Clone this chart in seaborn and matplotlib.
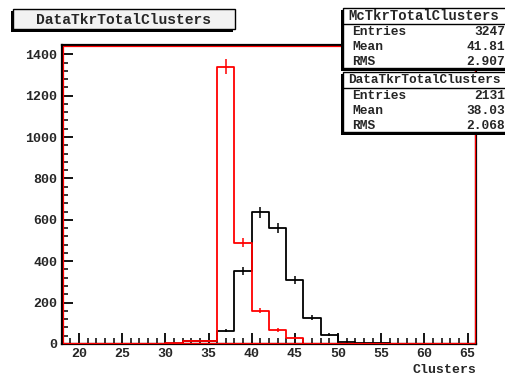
import numpy as np
import pandas as pd
import matplotlib
matplotlib.use("Agg")
import matplotlib.pyplot as plt
from matplotlib.patches import Rectangle
from matplotlib.ticker import MultipleLocator
import seaborn as sns

# Histogram binning: 24 bins of width 2 between 18 and 66
bin_lo, bin_hi, bin_w = 18, 66, 2
bin_centers = np.arange(bin_lo + bin_w / 2, bin_hi, bin_w)

# Monte Carlo (normalised to data entries) and data counts per bin
mc_counts = [0, 0, 0, 0, 0, 0, 0, 15, 15, 63, 352, 636, 559, 309, 127, 45, 10, 4, 2, 0, 0, 0, 0, 0]
data_counts = [0, 0, 0, 0, 0, 0, 6, 14, 14, 1341, 489, 160, 67, 27, 0, 0, 0, 0, 0, 0, 0, 0, 0, 0]

# Statistics boxes
mc_name = "McTkrTotalClusters"
mc_stats = [("Entries", "3247"), ("Mean", "41.81"), ("RMS", "2.907")]
data_name = "DataTkrTotalClusters"
data_stats = [("Entries", "2131"), ("Mean", "38.03"), ("RMS", "2.068")]

title = "DataTkrTotalClusters"
xlabel = "Clusters"

sns.set_style("white")
plt.rcParams["font.family"] = ["Liberation Mono", "DejaVu Sans Mono"]
plt.rcParams["font.weight"] = "bold"

fig = plt.figure(figsize=(5.06, 3.75), dpi=100)
ax = fig.add_axes([0.122, 0.083, 0.819, 0.797])

df = pd.DataFrame({
    "center": np.concatenate([bin_centers, bin_centers]),
    "count": np.concatenate([mc_counts, data_counts]),
    "sample": ["mc"] * len(bin_centers) + ["data"] * len(bin_centers),
})

for name, color in [("mc", "black"), ("data", "red")]:
    sub = df[df["sample"] == name]
    sns.histplot(data=sub, x="center", weights="count", binwidth=bin_w,
                 binrange=(bin_lo, bin_hi), element="step", fill=False,
                 color=color, linewidth=1.3, ax=ax)
    nz = sub[sub["count"] > 0]
    ax.errorbar(nz["center"], nz["count"], yerr=np.sqrt(nz["count"]),
                fmt="none", ecolor=color, elinewidth=1.1, capsize=0)

ax.set_xlim(bin_lo, bin_hi)
ax.set_ylim(0, 1445)
ax.set_xlabel("")
ax.set_ylabel("")

ax.xaxis.set_major_locator(MultipleLocator(5))
ax.xaxis.set_minor_locator(MultipleLocator(1))
ax.yaxis.set_major_locator(MultipleLocator(200))
ax.yaxis.set_minor_locator(MultipleLocator(40))
ax.tick_params(axis="both", which="both", bottom=True, left=True,
               top=False, right=False, direction="in", color="black")
ax.tick_params(axis="both", which="major", length=8, width=1.3,
               labelsize=9.5, pad=3)
ax.tick_params(axis="both", which="minor", length=4, width=1.1)
for lab in ax.get_xticklabels() + ax.get_yticklabels():
    lab.set_fontweight("bold")

for sp in ax.spines.values():
    sp.set_visible(True)
    sp.set_color("black")
    sp.set_linewidth(1.6)

# thin red frame drawn just inside the black one
ax.add_patch(Rectangle((0.002, 0.003), 0.996, 0.993, transform=ax.transAxes,
                       fill=False, edgecolor="red", linewidth=0.9, zorder=5,
                       clip_on=False))

W, H = 506, 375
fig.text(477 / W, 1 - 370 / H, xlabel, ha="right", va="center", fontsize=9.5,
         fontweight="bold")


def px_box(x0, y0, x1, y1, face="white", shadow=2.5):
    fig.patches.append(Rectangle((x0 / W, 1 - (y1 + shadow) / H),
                                 (x1 - x0) / W, (y1 - y0) / H,
                                 transform=fig.transFigure, facecolor="black",
                                 edgecolor="none", zorder=9))
    fig.patches.append(Rectangle(((x0 + shadow) / W, 1 - y1 / H),
                                 (x1 - x0) / W, (y1 - y0) / H,
                                 transform=fig.transFigure, facecolor=face,
                                 edgecolor="black", linewidth=1.0, zorder=10))


# title box
px_box(11, 9, 233, 29, face="#f2f2f2")
fig.text((13 + 235) / 2 / W, 1 - 19.5 / H, title, ha="center", va="center",
         fontsize=10.5, fontweight="bold", zorder=11)


def stat_box(y0, name, rows, name_size):
    x0, x1 = 341, 520
    px_box(x0, y0, x1, y0 + 60)
    fig.text(424 / W, 1 - (y0 + 8) / H, name, ha="center",
             va="center", fontsize=name_size, fontweight="bold", zorder=11)
    fig.lines.append(plt.Line2D([(x0 + 2) / W, 1], [1 - (y0 + 16) / H] * 2,
                                transform=fig.transFigure, color="black",
                                linewidth=1.0, zorder=11))
    for i, (k, v) in enumerate(rows):
        yy = 1 - (y0 + 24 + i * 14.8) / H
        fig.text((x0 + 11) / W, yy, k, ha="left", va="center", fontsize=9.3,
                 fontweight="bold", zorder=11)
        fig.text(505 / W, yy, v, ha="right", va="center", fontsize=9.3,
                 fontweight="bold", zorder=11)


stat_box(8, mc_name, mc_stats, 10.0)
stat_box(72, data_name, data_stats, 9.2)

fig.savefig("out.png", dpi=100)
